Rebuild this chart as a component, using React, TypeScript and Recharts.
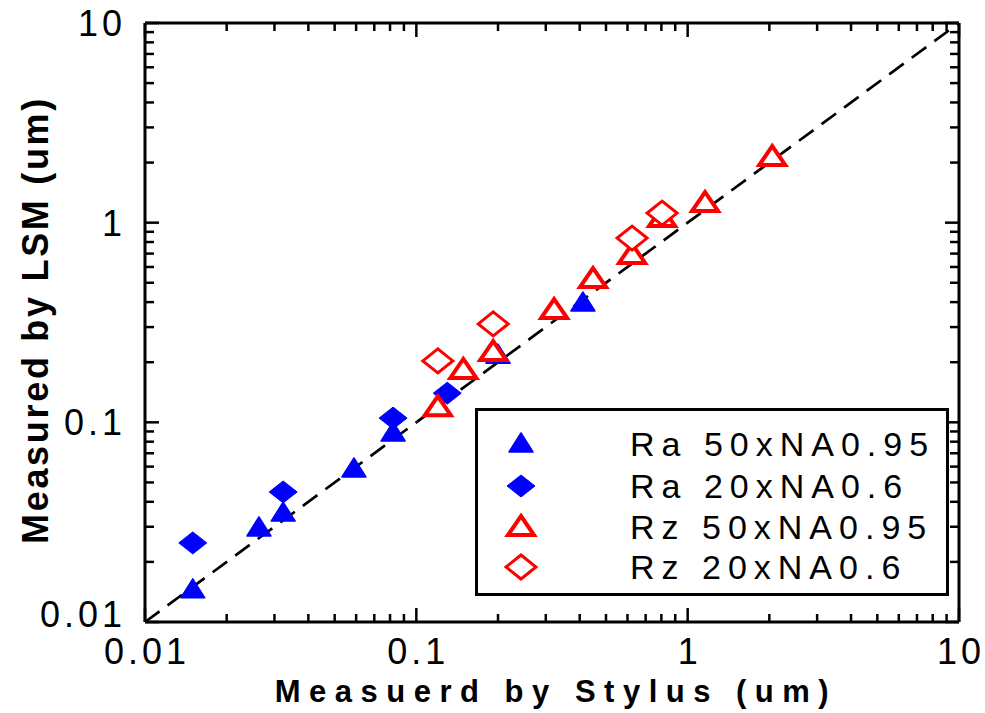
import React from 'react'
import {
  ScatterChart,
  Scatter,
  XAxis,
  YAxis,
  ReferenceLine,
  Legend
} from 'recharts'

// values (um)
const RA50_X = [0.015, 0.0263, 0.0323, 0.0589, 0.0821, 0.2, 0.411]
const RA50_Y = [0.0145, 0.0296, 0.0351, 0.0584, 0.0884, 0.217, 0.396]
const RA20_X = [0.015, 0.0323, 0.0821, 0.13]
const RA20_Y = [0.0249, 0.0448, 0.105, 0.14]
const RZ50_X = [0.12, 0.149, 0.192, 0.322, 0.448, 0.624, 0.805, 1.159, 2.05]
const RZ50_Y = [0.119, 0.183, 0.225, 0.365, 0.522, 0.689, 1.055, 1.253, 2.13]
const RZ20_X = [0.12, 0.192, 0.624, 0.805]
const RZ20_Y = [0.203, 0.311, 0.837, 1.117]

const SERIES_NAMES = ['Ra 50xNA0.95', 'Ra 20xNA0.6', 'Rz 50xNA0.95', 'Rz 20xNA0.6']

const MAJOR_TICKS = [0.01, 0.1, 1, 10]
const MAJOR_LABELS = ['0.01', '0.1', '1', '10']
const MINOR_TICKS = [
  0.02, 0.03, 0.04, 0.05, 0.06, 0.07, 0.08, 0.09,
  0.2, 0.3, 0.4, 0.5, 0.6, 0.7, 0.8, 0.9,
  2, 3, 4, 5, 6, 7, 8, 9
]
const ALL_TICKS = [...MAJOR_TICKS, ...MINOR_TICKS]

const toPoints = (xs: number[], ys: number[]) => xs.map((x, i) => ({ x, y: ys[i] }))

const W = 985
const H = 713
// axes take 1px each, so plot area is x 145..959, y 23..622
const M = { top: 23, right: 26, bottom: 90, left: 144 }
const PW = 959 - 145
const PH = 622 - 23
const FONT = '"Liberation Sans", Arial, Helvetica, sans-serif'
const BLUE = '#0000ff'
const RED = '#ff0000'

const labelFor = (v: number) => {
  const i = MAJOR_TICKS.findIndex((t) => Math.abs(t - v) < v * 1e-6)
  return i >= 0 ? MAJOR_LABELS[i] : null
}

function XTick({ x, y, payload }: any) {
  const label = labelFor(payload.value)
  const len = label ? 14 : 8
  return (
    <g>
      <line x1={x} y1={y} x2={x} y2={y - len} stroke="#000" strokeWidth={2.5} />
      <line x1={x} y1={y - PH} x2={x} y2={y - PH + len} stroke="#000" strokeWidth={2.5} />
      {label && (
        <text x={x + 2} y={y + 42} textAnchor="middle" fontFamily={FONT} fontSize={36} letterSpacing={4} fill="#000">
          {label}
        </text>
      )}
    </g>
  )
}

function YTick({ x, y, payload }: any) {
  const label = labelFor(payload.value)
  const len = label ? 14 : 9
  const shift = payload.value === 0.01 ? -8 : 0
  return (
    <g>
      <line x1={x} y1={y} x2={x + len} y2={y} stroke="#000" strokeWidth={2.5} />
      <line x1={x + PW} y1={y} x2={x + PW - len} y2={y} stroke="#000" strokeWidth={2.5} />
      {label && (
        <text x={x - 19} y={y + 13 + shift} textAnchor="end" fontFamily={FONT} fontSize={36} letterSpacing={4} fill="#000">
          {label}
        </text>
      )}
    </g>
  )
}

function FilledTriangle({ cx, cy }: any) {
  return <path d={`M${cx},${cy - 11} L${cx + 12},${cy + 8} L${cx - 12},${cy + 8} Z`} fill={BLUE} stroke={BLUE} strokeWidth={1.5} strokeLinejoin="round" />
}

function FilledDiamond({ cx, cy }: any) {
  return <path d={`M${cx},${cy - 11} L${cx + 14},${cy} L${cx},${cy + 11} L${cx - 14},${cy} Z`} fill={BLUE} stroke={BLUE} strokeWidth={1} strokeLinejoin="round" />
}

function OpenTriangle({ cx, cy }: any) {
  return <path d={`M${cx},${cy - 11} L${cx + 13},${cy + 8} L${cx - 13},${cy + 8} Z`} fill="#fff" stroke={RED} strokeWidth={4} />
}

function OpenDiamond({ cx, cy }: any) {
  return <path d={`M${cx},${cy - 12} L${cx + 15},${cy} L${cx},${cy + 12} L${cx - 15},${cy} Z`} fill="#fff" stroke={RED} strokeWidth={3} />
}

const SHAPES = [FilledTriangle, FilledDiamond, OpenTriangle, OpenDiamond]

function LegendBox() {
  const rows = [36, 78, 119, 159]
  return (
    <svg width={474} height={188} style={{ display: 'block' }}>
      <rect x={1.5} y={1.5} width={471} height={185} fill="#fff" stroke="#000" strokeWidth={3} />
      {SERIES_NAMES.map((name, i) => {
        const Shape = SHAPES[i]
        return (
          <g key={name}>
            <Shape cx={46} cy={rows[i]} />
            <text x={155} y={rows[i] + 12} fontFamily={FONT} fontSize={34} letterSpacing={7} fill="#000">
              {name}
            </text>
          </g>
        )
      })}
    </svg>
  )
}

export default function App() {
  return (
    <div style={{ position: 'absolute', left: 0, top: 0, width: W, height: H, background: '#fff' }}>
      <ScatterChart width={W} height={H} margin={M}>
        <XAxis
          dataKey="x"
          type="number"
          scale="log"
          domain={[0.01, 10]}
          allowDataOverflow
          ticks={ALL_TICKS}
          interval={0}
          height={1}
          tickSize={0}
          tickMargin={0}
          tick={<XTick />}
          tickLine={false}
          axisLine={{ stroke: '#000', strokeWidth: 3 }}
          label={() => (
            <text x={556} y={702} textAnchor="middle" fontFamily={FONT} fontWeight="bold" fontSize={31} letterSpacing={8.5} fill="#000">
              Measuerd by Stylus (um)
            </text>
          )}
        />
        <YAxis
          dataKey="y"
          type="number"
          scale="log"
          domain={[0.01, 10]}
          allowDataOverflow
          ticks={ALL_TICKS}
          interval={0}
          width={1}
          tickSize={0}
          tickMargin={0}
          tick={<YTick />}
          tickLine={false}
          axisLine={{ stroke: '#000', strokeWidth: 3 }}
          label={() => (
            <text x={0} y={0} transform="translate(48,320) rotate(-90)" textAnchor="middle" fontFamily={FONT} fontWeight="bold" fontSize={36} letterSpacing={2.7} fill="#000">
              Measured by LSM (um)
            </text>
          )}
        />
        <ReferenceLine y={10} stroke="#000" strokeWidth={3} />
        <ReferenceLine x={10} stroke="#000" strokeWidth={3} />
        <Scatter name={SERIES_NAMES[0]} data={toPoints(RA50_X, RA50_Y)} shape={<FilledTriangle />} isAnimationActive={false} />
        <Scatter name={SERIES_NAMES[1]} data={toPoints(RA20_X, RA20_Y)} shape={<FilledDiamond />} isAnimationActive={false} />
        <Scatter name={SERIES_NAMES[2]} data={toPoints(RZ50_X, RZ50_Y)} shape={<OpenTriangle />} isAnimationActive={false} />
        <Scatter name={SERIES_NAMES[3]} data={toPoints(RZ20_X, RZ20_Y)} shape={<OpenDiamond />} isAnimationActive={false} />
        <ReferenceLine
          segment={[{ x: 0.01, y: 0.01 }, { x: 10, y: 10 }]}
          stroke="#000"
          strokeWidth={2.7}
          strokeDasharray="18 10"
          ifOverflow="visible"
        />
        <Legend
          layout="horizontal"
          verticalAlign="middle"
          align="center"
          content={() => <LegendBox />}
          wrapperStyle={{ left: 475, top: 408, width: 474, height: 188 }}
        />
      </ScatterChart>
    </div>
  )
}
